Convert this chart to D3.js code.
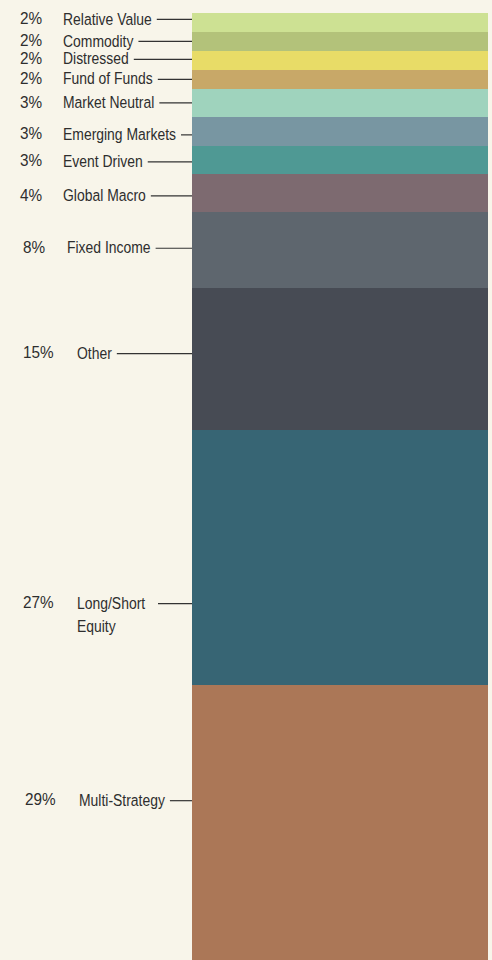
<!DOCTYPE html>
<html lang="en">
<head>
  <meta charset="UTF-8" />
  <title>Hedge Fund Strategy Allocation</title>
  <script src="https://d3js.org/d3.v7.min.js"></script>
  <style>
    html, body { margin: 0; padding: 0; background: #f8f5ea; }
    svg { display: block; }
  </style>
</head>
<body>
  <svg id="chart" width="492" height="960"></svg>

  <script>
    // Strategy categories, top to bottom
    const strategies = [
      "Relative Value", "Commodity", "Distressed", "Fund of Funds",
      "Market Neutral", "Emerging Markets", "Event Driven", "Global Macro",
      "Fixed Income", "Other", "Long/Short\nEquity", "Multi-Strategy"
    ];
    // Share of allocation (%)
    const shares = [2, 2, 2, 2, 3, 3, 3, 4, 8, 15, 27, 29];
    const colors = [
      "#cde193", "#b3c27a", "#e8dc67", "#c8a868",
      "#9fd3bd", "#7896a2", "#4f9994", "#7d6a70",
      "#5e666e", "#474b54", "#376574", "#ab7757"
    ];

    // Layout tweaks for labels (pixels)
    const labelNudge = [-3.5, -0.5, -1.5, -0.5, -0.5, 3, 1.5, 2.5, -2, -5.5, 45.5, -22.5];
    const pctX  = [20, 20, 20, 20, 20, 20, 20, 20, 23, 23, 23, 25];
    const nameX = [63, 63, 63, 63, 63, 63, 63, 63, 67, 77, 77, 79];

    const svg = d3.select("#chart");
    const width = +svg.attr("width");
    const height = +svg.attr("height");
    const margin = { top: 13, right: 4, bottom: 0, left: 192 };
    const font = "'Liberation Sans', Arial, sans-serif";
    const squeeze = 0.82; // narrow the regular face to a condensed look

    // stack the shares cumulatively
    let acc = 0;
    const data = strategies.map((name, i) => {
      const d = { name, value: shares[i], y0: acc, y1: acc + shares[i], color: colors[i], i };
      acc += shares[i];
      return d;
    });

    const y = d3.scaleLinear()
      .domain([0, d3.sum(shares)])
      .range([margin.top, height - margin.bottom]);

    const x = d3.scaleBand()
      .domain(["allocation"])
      .range([margin.left, width - margin.right])
      .padding(0);

    svg.append("g")
      .attr("shape-rendering", "crispEdges")
      .selectAll("rect")
      .data(data)
      .join("rect")
      .attr("x", x("allocation"))
      .attr("width", x.bandwidth())
      .attr("y", d => y(d.y0))
      .attr("height", d => y(d.y1) - y(d.y0))
      .attr("fill", d => d.color);

    const labels = svg.append("g")
      .selectAll("g")
      .data(data)
      .join("g")
      .attr("transform", d => `translate(0, ${(y(d.y0) + y(d.y1)) / 2 + labelNudge[d.i]})`);

    // percentage
    labels.append("g")
      .attr("transform", d => `translate(${pctX[d.i]}, 0) scale(0.9, 1)`)
      .append("text")
      .attr("dy", "0.3em")
      .attr("font-family", font)
      .attr("font-size", "17px")
      .attr("fill", "#2e2e2e")
      .text(d => d.value + "%");

    labels.each(function(d) {
      const g = d3.select(this);
      const lines = d.name.split("\n");
      const t = g.append("g")
        .attr("transform", `translate(${nameX[d.i]}, 0) scale(${squeeze}, 1)`)
        .append("text")
        .attr("font-family", font)
        .attr("font-size", "17px")
        .attr("fill", "#2e2e2e");
      lines.forEach((ln, k) => {
        t.append("tspan")
          .attr("x", 0)
          .attr("y", k * 23)
          .attr("dy", "0.33em")
          .text(ln);
      });
      // leader line from end of first text line to the bar
      const first = t.select("tspan").node().getComputedTextLength() * squeeze;
      const start = Math.max(nameX[d.i] + first + 5, lines.length > 1 ? 158 : 0);
      g.append("line")
        .attr("x1", start)
        .attr("x2", x("allocation"))
        .attr("y1", 0.5)
        .attr("y2", 0.5)
        .attr("stroke", "#333")
        .attr("stroke-width", 1.2);
    });
  </script>
</body>
</html>
